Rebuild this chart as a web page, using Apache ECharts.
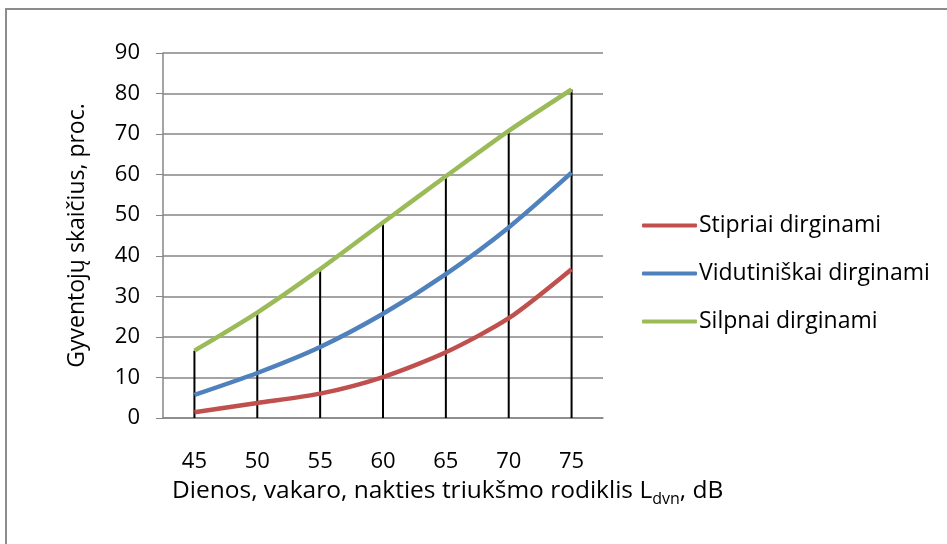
<!DOCTYPE html>
<html>
<head>
<meta charset="utf-8">
<script src="https://cdn.jsdelivr.net/npm/echarts@6/dist/echarts.min.js"></script>
<style>
  html, body { margin: 0; padding: 0; background: #fff; }
  #frame { position: absolute; left: 5px; top: 8px; width: 950px; height: 545px; border: 2px solid #8c8c8c; box-sizing: border-box; }
  #chart { width: 947px; height: 544px; }
</style>
</head>
<body>
<div id="frame"></div>
<div id="chart"></div>
<script>
// duomenys
const categories = ['45', '50', '55', '60', '65', '70', '75']
const stipriai = [1.4, 3.7, 6.0, 10.1, 16.2, 24.6, 36.7]
const vidutiniskai = [5.7, 11.1, 17.5, 25.7, 35.5, 47.0, 60.5]
const silpnai = [16.6, 26.0, 36.7, 48.2, 59.6, 70.8, 81.0]

const font = "'Open Sans', 'Noto Sans', sans-serif"
const myChart = echarts.init(document.getElementById('chart'))
myChart.setOption({
  animation: false,
  textStyle: { fontFamily: font },
  // x asies pavadinimas su indeksu
  title: {
    left: 167,
    top: 471,
    text: '{t|Dienos, vakaro, nakties triukšmo rodiklis L}{s|dvn}{t|, dB}',
    textStyle: {
      fontWeight: 'normal',
      rich: {
        t: { fontSize: 24.5, color: '#000', fontFamily: font, fontWeight: 'normal' },
        s: { fontSize: 16, color: '#000', fontFamily: font, fontWeight: 'normal', verticalAlign: 'bottom', padding: [15, 0, 0, 0] }
      }
    }
  },
  grid: { left: 163, right: 344, top: 53, bottom: 126 },
  legend: {
    orient: 'vertical',
    left: 637,
    top: 209,
    itemGap: 25,
    itemWidth: 55,
    itemHeight: 4,
    icon: 'roundRect',
    textStyle: { fontSize: 23, color: '#000', fontFamily: font, padding: [0, 0, 0, -3] },
    data: ['Stipriai dirginami', 'Vidutiniškai dirginami', 'Silpnai dirginami']
  },
  xAxis: {
    type: 'category',
    data: categories,
    boundaryGap: true,
    axisLine: { lineStyle: { color: '#868686', width: 1.5 } },
    axisTick: { show: false },
    axisLabel: { color: '#000', fontSize: 22, margin: 33, fontFamily: font }
  },
  yAxis: {
    type: 'value',
    min: 0,
    max: 90,
    interval: 10,
    axisLine: { show: true, lineStyle: { color: '#868686', width: 1.5 } },
    axisTick: { show: true, length: 7, lineStyle: { color: '#868686' } },
    splitLine: { lineStyle: { color: '#868686', width: 1.5 } },
    axisLabel: { color: '#000', fontSize: 22, margin: 23, fontFamily: font },
    name: 'Gyventojų skaičius, proc.',
    nameLocation: 'middle',
    nameGap: 74,
    nameTextStyle: { fontSize: 23, color: '#000', fontFamily: font }
  },
  series: [
    {
      name: 'drop',
      type: 'bar',
      data: silpnai,
      barWidth: 2,
      itemStyle: { color: '#000' },
      silent: true,
      z: 1
    },
    {
      name: 'Stipriai dirginami',
      type: 'line',
      data: stipriai,
      smooth: 0.25,
      showSymbol: false,
      lineStyle: { color: '#C0504D', width: 4.5 },
      itemStyle: { color: '#C0504D' },
      z: 3
    },
    {
      name: 'Vidutiniškai dirginami',
      type: 'line',
      data: vidutiniskai,
      smooth: 0.25,
      showSymbol: false,
      lineStyle: { color: '#4F81BD', width: 4.5 },
      itemStyle: { color: '#4F81BD' },
      z: 3
    },
    {
      name: 'Silpnai dirginami',
      type: 'line',
      data: silpnai,
      smooth: 0.25,
      showSymbol: false,
      lineStyle: { color: '#9BBB59', width: 4.5 },
      itemStyle: { color: '#9BBB59' },
      z: 3
    }
  ]
})
</script>
</body>
</html>
